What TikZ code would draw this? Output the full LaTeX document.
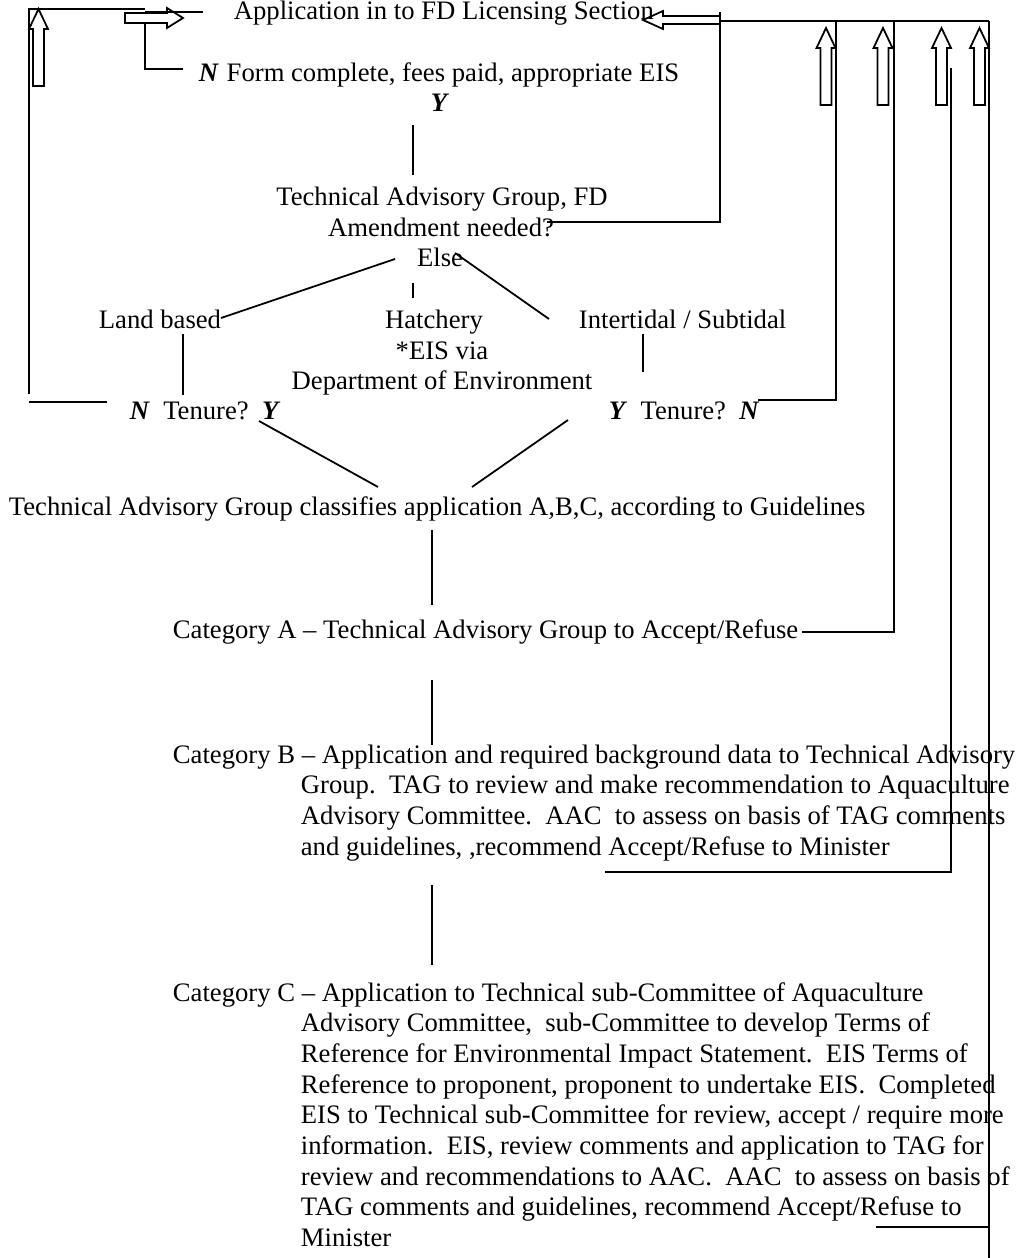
\documentclass[tikz,border=0pt]{standalone}
\usepackage{fontspec}
\setmainfont{Liberation Serif}
\begin{document}
\frenchspacing
\begin{tikzpicture}[x=0.45pt,y=-0.45pt,line width=0.8pt,line join=miter,
  txt/.style={inner sep=0pt,anchor=base west,font=\fontsize{12}{13.8}\selectfont},
  ctxt/.style={txt,anchor=base},
  link/.style={draw,line width=0.8pt},
  uparr/.pic={\draw[line width=0.8pt] (-5.5,0) -- (-5.5,-57) -- (-9.5,-57) -- (0,-77) -- (9.5,-57) -- (5.5,-57) -- (5.5,0) -- cycle;}]
\useasboundingbox (0,0) rectangle (1019,1258);

% ---------- texts ----------
\node[txt] (app) at (233,20) {Application in to FD Licensing Section};
\node[txt] (form) at (198,82) {\textbf{\textit{N}}\hspace{3.5pt}Form complete, fees paid, appropriate EIS};
\node[ctxt] (yes1) at (440,112) {\textbf{\textit{Y}}};
\node[ctxt] (tag) at (442,205) {Technical Advisory Group, FD};
\node[ctxt] (amend) at (441,236) {Amendment needed?};
\node[ctxt] (else) at (440,266) {Else};
\node[txt] (land) at (98,328) {Land based};
\node[ctxt] (hatch) at (434,328) {Hatchery};
\node[ctxt] (eis) at (442,359) {*EIS via};
\node[ctxt] (dept) at (442,389) {Department of Environment};
\node[txt] (inter) at (578,328) {Intertidal / Subtidal};
\node[txt] (tenL) at (129,419) {\textbf{\textit{N}}\ \ Tenure?\ \ \textbf{\textit{Y}}};
\node[txt] (tenR) at (608,419) {\textbf{\textit{Y}}\ \ Tenure?\ \ \textbf{\textit{N}}};
\node[txt] (cls) at (8,515) {Technical Advisory Group classifies application A,B,C, according to Guidelines};
\node[txt] (catA) at (172,638) {Category A – Technical Advisory Group to Accept/Refuse};

\node[txt] (catB1) at (172,763) {Category B – Application and required background data to Technical Advisory};
\node[txt] (catB2) at (300,793.7) {Group.\ \ TAG to review and make recommendation to Aquaculture};
\node[txt] (catB3) at (300,824.3) {Advisory Committee.\ \ AAC\ \ to assess on basis of TAG comments};
\node[txt] (catB4) at (300,855) {and guidelines, ,recommend Accept/Refuse to Minister};

\node[txt] (catC1) at (172,1001) {Category C – Application to Technical sub-Committee of Aquaculture};
\node[txt] (catC2) at (300,1031.7) {Advisory Committee,\ \ sub-Committee to develop Terms of};
\node[txt] (catC3) at (300,1062.3) {Reference for Environmental Impact Statement.\ \ EIS Terms of};
\node[txt] (catC4) at (300,1093) {Reference to proponent, proponent to undertake EIS.\ \ Completed};
\node[txt] (catC5) at (300,1123.7) {EIS to Technical sub-Committee for review, accept / require more};
\node[txt] (catC6) at (300,1154.3) {information.\ \ EIS, review comments and application to TAG for};
\node[txt] (catC7) at (300,1185) {review and recommendations to AAC.\ \ AAC\ \ to assess on basis of};
\node[txt] (catC8) at (300,1215.7) {TAG comments and guidelines, recommend Accept/Refuse to};
\node[txt] (catC9) at (300,1246.3) {Minister};

% ---------- coordinates ----------
\coordinate (lb) at (29,394);  \coordinate (lt) at (29,9);   \coordinate (lr) at (145,9);
\coordinate (tn0) at (107,402); \coordinate (tn1) at (29,402);
\coordinate (ra0) at (145,12); \coordinate (ra1) at (203,12);
\coordinate (fN) at (183,69);  \coordinate (fc) at (145,69);  \coordinate (fa) at (145,23);
\coordinate (y0) at (413,125); \coordinate (y1) at (413,175);
\coordinate (am0) at (547,222); \coordinate (am1) at (720,222); \coordinate (am2) at (720,12);
\coordinate (top0) at (720,21); \coordinate (top1) at (989,21);
\coordinate (el0) at (395,259); \coordinate (el1) at (221,318);
\coordinate (er0) at (455,253); \coordinate (er1) at (549,319);
\coordinate (eh0) at (413,283); \coordinate (eh1) at (413,298);
\coordinate (ld0) at (183,334); \coordinate (ld1) at (183,395);
\coordinate (it0) at (643,334); \coordinate (it1) at (643,372);
\coordinate (ty0) at (259,421); \coordinate (ty1) at (378,487);
\coordinate (tr0) at (568,420); \coordinate (tr1) at (472,487);
\coordinate (ca0) at (432,530); \coordinate (ca1) at (432,605);
\coordinate (cb0) at (432,680); \coordinate (cb1) at (432,745);
\coordinate (cc0) at (432,885); \coordinate (cc1) at (432,965);
\coordinate (r1t) at (836,21);  \coordinate (r1b) at (836,400); \coordinate (r1e) at (758,400);
\coordinate (r2t) at (894,21);  \coordinate (r2b) at (894,632); \coordinate (r2e) at (802,632);
\coordinate (r3t) at (951,68);  \coordinate (r3b) at (951,872); \coordinate (r3e) at (605,872);
\coordinate (r4t) at (989,21);  \coordinate (r4b) at (989,1258);
\coordinate (r4e0) at (876,1227); \coordinate (r4e1) at (989,1227);

% ---------- connectors ----------
\draw[link] (lb) -- (lt) -- (lr);
\draw[link] (tn0) -- (tn1);
\draw[link] (ra0) -- (ra1);
\draw[link] (fN) -- (fc) -- (fa);
\draw[link] (y0) -- (y1);
\draw[link] (am0) -- (am1) -- (am2);
\draw[link] (top0) -- (top1);
\draw[link] (el0) -- (el1);
\draw[link] (er0) -- (er1);
\draw[link] (eh0) -- (eh1);
\draw[link] (ld0) -- (ld1);
\draw[link] (it0) -- (it1);
\draw[link] (ty0) -- (ty1);
\draw[link] (tr0) -- (tr1);
\draw[link] (ca0) -- (ca1);
\draw[link] (cb0) -- (cb1);
\draw[link] (cc0) -- (cc1);
\draw[link] (r1t) -- (r1b) -- (r1e);
\draw[link] (r2t) -- (r2b) -- (r2e);
\draw[link] (r3t) -- (r3b) -- (r3e);
\draw[link] (r4t) -- (r4b);
\draw[link] (r4e0) -- (r4e1);

% ---------- block arrows ----------
\draw[link] (125,13) -- (167,13) -- (167,8) -- (183,18) -- (167,28) -- (167,23) -- (125,23) -- cycle;
\draw[link] (720,16) -- (663,16) -- (663,11) -- (643,20) -- (663,29) -- (663,24) -- (720,24);
\pic at (38.5,86) {uparr};
\pic at (826,105) {uparr};
\pic at (883,105) {uparr};
\pic at (941.5,105) {uparr};
\pic at (979.5,105) {uparr};
\end{tikzpicture}
\end{document}
